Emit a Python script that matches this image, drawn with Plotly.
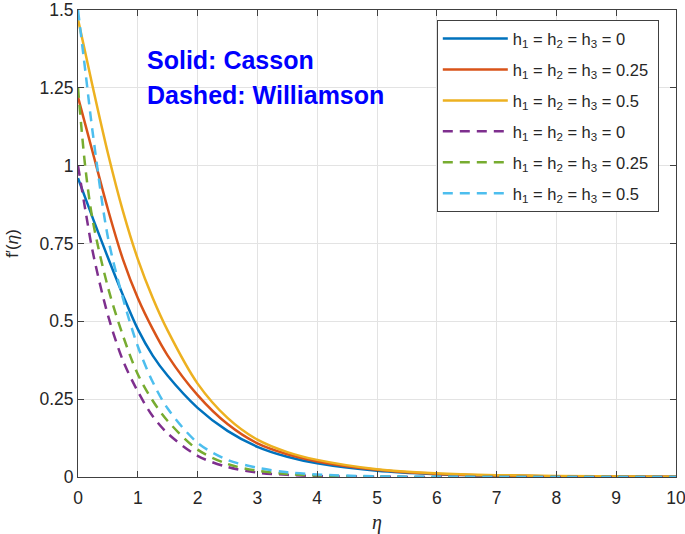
import plotly.graph_objects as go

eta = [0, 0.125, 0.25, 0.5, 0.75, 1, 1.25, 1.5, 2, 2.5, 3, 3.5, 4, 5, 6, 7, 8, 10]

casson_0 = [0.96, 0.895, 0.83, 0.705, 0.585, 0.475, 0.39, 0.325, 0.222, 0.148, 0.097, 0.065, 0.044, 0.02, 0.009, 0.004, 0.002, 0.0005]
casson_025 = [1.22, 1.13, 1.04, 0.86, 0.70, 0.575, 0.475, 0.39, 0.263, 0.17, 0.108, 0.073, 0.05, 0.023, 0.01, 0.005, 0.002, 0.0005]
casson_05 = [1.47, 1.36, 1.25, 1.04, 0.855, 0.70, 0.575, 0.47, 0.30, 0.19, 0.12, 0.08, 0.055, 0.025, 0.012, 0.006, 0.003, 0.0008]
will_0 = [1.0, 0.855, 0.72, 0.52, 0.375, 0.275, 0.195, 0.14, 0.068, 0.032, 0.014, 0.007, 0.003, 0.001, 0, 0, 0, 0]
will_025 = [1.25, 0.99, 0.82, 0.61, 0.455, 0.33, 0.245, 0.18, 0.088, 0.042, 0.02, 0.01, 0.005, 0.001, 0, 0, 0, 0]
will_05 = [1.5, 1.30, 1.10, 0.77, 0.575, 0.42, 0.305, 0.22, 0.11, 0.055, 0.03, 0.015, 0.008, 0.002, 0.001, 0, 0, 0]

labels = ["h<sub>1</sub> = h<sub>2</sub> = h<sub>3</sub> = 0 ",
          "h<sub>1</sub> = h<sub>2</sub> = h<sub>3</sub> = 0.25 ",
          "h<sub>1</sub> = h<sub>2</sub> = h<sub>3</sub> = 0.5 "]

series = [
    (casson_0, labels[0], "#0072BD", "solid"),
    (casson_025, labels[1], "#D95319", "solid"),
    (casson_05, labels[2], "#EDB120", "solid"),
    (will_0, labels[0], "#7E2F8E", "10px,7px"),
    (will_025, labels[1], "#77AC30", "10px,7px"),
    (will_05, labels[2], "#4DBEEE", "10px,7px"),
]

y_ticks = [0, 0.25, 0.5, 0.75, 1, 1.25, 1.5]
y_tick_text = ["0", "0.25", "0.5", "0.75", "1", "1.25", "1.5"]
x_ticks = [0, 1, 2, 3, 4, 5, 6, 7, 8, 9, 10]

fig = go.Figure()
for i, (y, name, color, dash) in enumerate(series):
    fig.add_trace(go.Scatter(
        x=eta, y=y, name=name, mode="lines", legendgroup="g%d" % i,
        line=dict(color=color, width=2.5, dash=dash, shape="spline", smoothing=0.9),
    ))

axis_common = dict(
    showline=True, linecolor="#404040", linewidth=1, mirror="ticks",
    ticks="inside", ticklen=6, tickcolor="#404040",
    showgrid=True, gridcolor="#e3e3e3", gridwidth=1,
    zeroline=False, automargin=False, ticklabeloverflow="allow",
    tickfont=dict(family="Liberation Sans, Arial", size=17.5, color="#262626"),
)

fig.update_xaxes(range=[0, 10], tickvals=x_ticks, ticklabelstandoff=5,
                 title=dict(text="<i>η</i>", font=dict(family="Liberation Serif, Times New Roman", size=20, color="#262626"), standoff=8),
                 **axis_common)
fig.update_yaxes(range=[0, 1.5], tickvals=y_ticks, ticktext=y_tick_text,
                 title=dict(text="f′(<i>η</i>)", font=dict(family="Liberation Sans, Arial", size=17, color="#262626"), standoff=16),
                 **axis_common)

fig.add_annotation(x=0.112, y=0.894, xref="paper", yref="paper", xanchor="left", yanchor="middle",
                   text="<b>Solid: Casson</b>", showarrow=False,
                   font=dict(family="Liberation Sans, Arial", size=25, color="#0000FF"))
fig.add_annotation(x=0.112, y=0.818, xref="paper", yref="paper", xanchor="left", yanchor="middle",
                   text="<b>Dashed: Williamson</b>", showarrow=False,
                   font=dict(family="Liberation Sans, Arial", size=25, color="#0000FF"))

fig.update_layout(
    width=685, height=534,
    margin=dict(l=78, r=9, t=10, b=57),
    paper_bgcolor="white", plot_bgcolor="white",
    legend=dict(x=0.6, y=0.978, xanchor="left", yanchor="top",
                bgcolor="white", bordercolor="#404040", borderwidth=1,
                font=dict(family="Liberation Sans, Arial", size=16.5, color="#262626"),
                traceorder="grouped", tracegroupgap=6.5, itemwidth=65),
    showlegend=True,
)

fig.write_html("out.html", config={"displayModeBar": False},
               post_script="document.body.style.margin='0px';")
